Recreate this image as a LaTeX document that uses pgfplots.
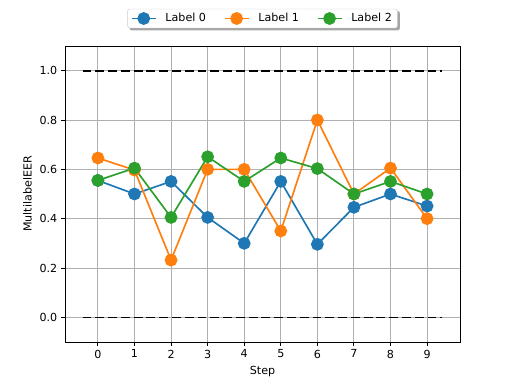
\documentclass[border=0pt]{standalone}
\usepackage{fontspec}
\setmainfont{DejaVu Sans}
\usepackage{pgfplots}
\pgfplotsset{compat=1.18}
\usetikzlibrary{backgrounds}
\definecolor{tabblue}{HTML}{1F77B4}
\definecolor{taborange}{HTML}{FF7F0E}
\definecolor{tabgreen}{HTML}{2CA02C}
\definecolor{gridgray}{HTML}{B0B0B0}
\begin{document}
\begin{tikzpicture}
\path[use as bounding box] (-58.5pt,-37.8pt) rectangle (402.3pt,307.8pt);
\begin{axis}[
  at={(0,0)}, anchor=south west,
  scale only axis, width=355.5pt, height=266.4pt,
  xmin=-0.9, xmax=9.9, ymin=-0.1, ymax=1.1,
  xtick={0,...,9},
  ytick={0,0.2,0.4,0.6,0.8,1.0},
  yticklabel style={/pgf/number format/.cd,fixed,fixed zerofill,precision=1},
  /pgf/number format/assume math mode=true,
  tick label style={font=\fontsize{10}{12}\selectfont},
  label style={font=\fontsize{10}{12}\selectfont},
  xlabel={Step}, ylabel={MultilabelEER},
  xmajorgrids, ymajorgrids,
  grid style={gridgray, line width=0.8pt},
  tick align=outside, tick pos=left,
  major tick length=3.5pt,
  every tick/.style={black, line width=0.8pt},
  axis line style={line width=0.8pt},
  legend columns=3,
  legend image code/.code={
    \draw[line cap=butt, line width=1.5pt] (0pt,0pt) -- (21.6pt,0pt);
    \fill (10.8pt,0pt) circle (5pt);
  },
  legend style={at={(0.5,1)}, anchor=south, yshift=16pt, name=leg, rounded corners=2pt,
    draw=gray!40, fill=white, font=\fontsize{10}{12}\selectfont, inner ysep=2pt,
    /tikz/every odd column/.append style={column sep=6pt},
    /tikz/every even column/.append style={column sep=14pt}},
  legend cell align=left,
]
\addplot[black, dash pattern=on 8pt off 3.5pt, line width=1.5pt, forget plot] coordinates {(-0.42,1) (9.42,1)};
\addplot[black, dash pattern=on 8pt off 3.5pt, line width=1.5pt, forget plot] coordinates {(-0.42,0) (9.42,0)};
\addplot[tabblue, line width=1.5pt, mark=*, mark size=5pt, mark options={fill=tabblue, draw=tabblue}] coordinates {
(0,0.555) (1,0.5) (2,0.551) (3,0.405) (4,0.300) (5,0.551) (6,0.296) (7,0.446) (8,0.5) (9,0.451)};
\addlegendentry{Label 0}
\addplot[taborange, line width=1.5pt, mark=*, mark size=5pt, mark options={fill=taborange, draw=taborange}] coordinates {
(0,0.646) (1,0.597) (2,0.232) (3,0.6) (4,0.6) (5,0.35) (6,0.8) (7,0.5) (8,0.605) (9,0.4)};
\addlegendentry{Label 1}
\addplot[tabgreen, line width=1.5pt, mark=*, mark size=5pt, mark options={fill=tabgreen, draw=tabgreen}] coordinates {
(0,0.555) (1,0.605) (2,0.405) (3,0.651) (4,0.551) (5,0.646) (6,0.603) (7,0.5) (8,0.551) (9,0.5)};
\addlegendentry{Label 2}
\end{axis}
\begin{scope}[on background layer]
\fill[gray!70, rounded corners=2pt] ([xshift=2pt,yshift=-2pt]leg.south west) rectangle ([xshift=2pt,yshift=-2pt]leg.north east);
\end{scope}
\end{tikzpicture}
\end{document}
